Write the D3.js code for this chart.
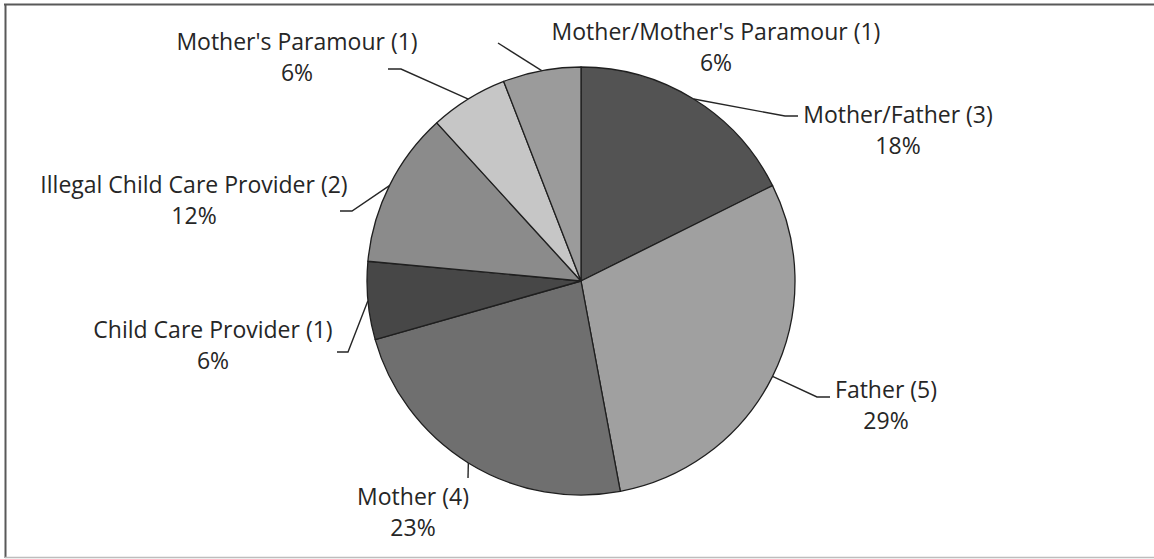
<!DOCTYPE html>
<html>
<head>
<meta charset="utf-8">
<script src="https://cdn.jsdelivr.net/npm/d3@7"></script>
<style>
  body { margin: 0; background: #fff; }
  text { font-family: "Open Sans", sans-serif; fill: #262626; }
</style>
</head>
<body>
<div id="chart"></div>
<script>
// data, clockwise from 12 o'clock
var categories = ["Mother/Father", "Father", "Mother", "Child Care Provider",
                  "Illegal Child Care Provider", "Mother's Paramour", "Mother/Mother's Paramour"]
var counts = [3, 5, 4, 1, 2, 1, 1]
var percents = ["18%", "29%", "23%", "6%", "12%", "6%", "6%"]

var fills = ["#535353", "#a0a0a0", "#6f6f6f", "#474747", "#8b8b8b", "#c6c6c6", "#9b9b9b"]

// label placement: text centre x, first baseline y, leader elbow and end
var labelPos = [
  {x: 898, y: 123, elbow: [785, 116], end: [798, 116]},
  {x: 886, y: 398, elbow: [817, 397], end: [830, 397]},
  {x: 413, y: 505, elbow: [468, 478], end: [468, 478]},
  {x: 213, y: 338, elbow: [348, 352], end: [337, 352]},
  {x: 194, y: 193, elbow: [352, 211], end: [340, 211]},
  {x: 297, y: 50,  elbow: [401, 69],  end: [388, 69]},
  {x: 716, y: 40,  elbow: [498, 43],  end: [498, 43]}
]

var width = 1154,
    height = 559,
    cx = 581,
    cy = 281,
    radius = 214

var svg = d3.select("#chart")
  .append("svg")
    .attr("width", width)
    .attr("height", height)

// chart frame
svg.append("line").attr("x1", 4).attr("x2", width).attr("y1", 4.5).attr("y2", 4.5)
  .attr("stroke", "#595959").attr("stroke-width", 2)
svg.append("line").attr("x1", 5.5).attr("x2", 5.5).attr("y1", 4).attr("y2", 558)
  .attr("stroke", "#595959").attr("stroke-width", 2)
svg.append("line").attr("x1", 5).attr("x2", width).attr("y1", 557.5).attr("y2", 557.5)
  .attr("stroke", "#bdbdbd").attr("stroke-width", 1.5)

var g = svg.append("g")
  .attr("transform", "translate(" + cx + "," + cy + ")")

var pie = d3.pie().sort(null).value(function(d) { return d.value })
var data_ready = pie(categories.map(function(c, i) { return {key: c, value: counts[i], i: i} }))

var arc = d3.arc().innerRadius(0).outerRadius(radius)

g.selectAll("slices")
  .data(data_ready)
  .enter()
  .append("path")
    .attr("d", arc)
    .attr("fill", function(d) { return fills[d.data.i] })
    .attr("stroke", "#1f1f1f")
    .attr("stroke-width", 1.3)
    .attr("stroke-linejoin", "round")

// leader lines: from slice mid-angle on the rim to the label
function rimPoint(d) {
  var a = (d.startAngle + d.endAngle) / 2
  return [cx + radius * Math.sin(a), cy - radius * Math.cos(a)]
}

svg.selectAll("leaders")
  .data(data_ready)
  .enter()
  .append("polyline")
    .attr("points", function(d) {
      var p = labelPos[d.data.i]
      return [rimPoint(d), p.elbow, p.end].map(function(q) { return q.join(",") }).join(" ")
    })
    .attr("fill", "none")
    .attr("stroke", "#262626")
    .attr("stroke-width", 1.4)

var labels = svg.selectAll("labels")
  .data(data_ready)
  .enter()
  .append("text")
    .attr("text-anchor", "middle")
    .style("font-size", "23px")

labels.append("tspan")
  .attr("x", function(d) { return labelPos[d.data.i].x })
  .attr("y", function(d) { return labelPos[d.data.i].y })
  .text(function(d) { return d.data.key + " (" + d.data.value + ")" })

labels.append("tspan")
  .attr("x", function(d) { return labelPos[d.data.i].x })
  .attr("y", function(d) { return labelPos[d.data.i].y + 31 })
  .text(function(d) { return percents[d.data.i] })
</script>
</body>
</html>
